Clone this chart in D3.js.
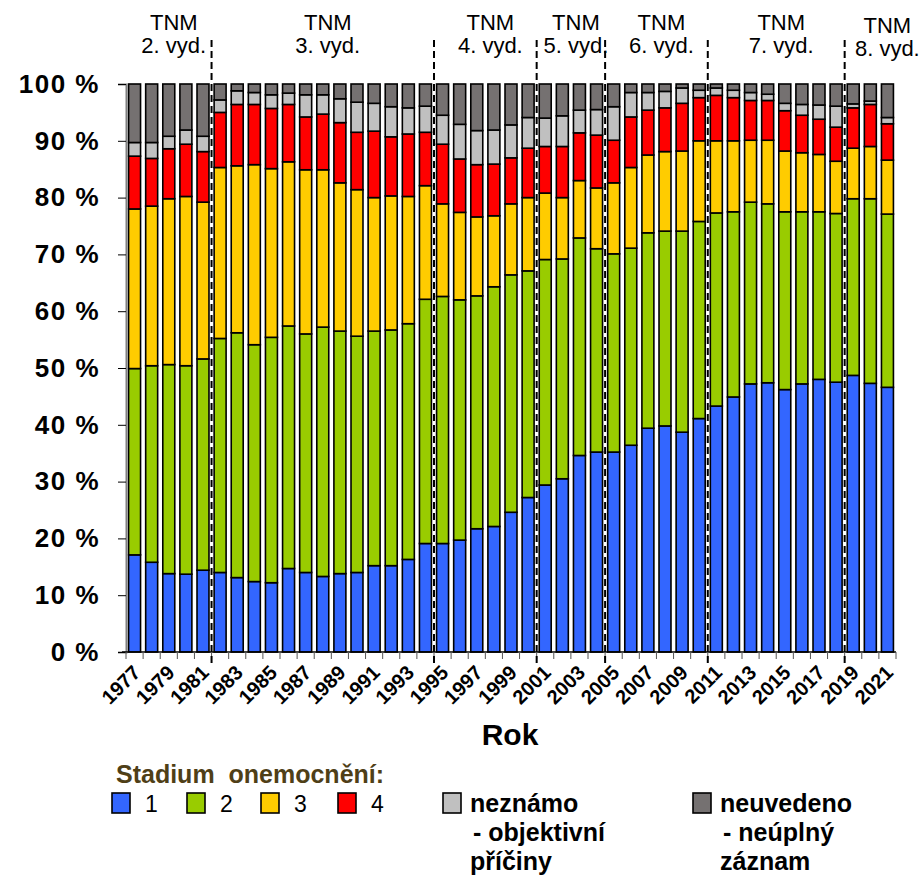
<!DOCTYPE html>
<html>
<head>
<meta charset="utf-8">
<script src="https://cdn.jsdelivr.net/npm/d3@7"></script>
<style>
  body { margin: 0; background: #fff; }
  svg { display: block; font-family: "Liberation Sans", Arial, sans-serif; }
</style>
</head>
<body>
<svg id="chart" width="922" height="877"></svg>
<script>
// years shown on the x axis
const years = [1977, 1978, 1979, 1980, 1981, 1982, 1983, 1984, 1985, 1986,
    1987, 1988, 1989, 1990, 1991, 1992, 1993, 1994, 1995, 1996,
    1997, 1998, 1999, 2000, 2001, 2002, 2003, 2004, 2005, 2006,
    2007, 2008, 2009, 2010, 2011, 2012, 2013, 2014, 2015, 2016,
    2017, 2018, 2019, 2020, 2021];

// share of each stage (%)
const stage1 = [17.1, 15.8, 13.8, 13.7, 14.4, 14.0, 13.1, 12.4, 12.2, 14.7,
    14.0, 13.3, 13.8, 14.0, 15.2, 15.2, 16.3, 19.1, 19.1, 19.7,
    21.7, 22.1, 24.6, 27.2, 29.4, 30.5, 34.6, 35.2, 35.2, 36.4,
    39.4, 39.8, 38.7, 41.1, 43.3, 44.9, 47.2, 47.4, 46.2, 47.2,
    48.0, 47.5, 48.7, 47.3, 46.6];
const stage2 = [32.8, 34.6, 36.8, 36.7, 37.2, 41.2, 43.1, 41.7, 43.2, 42.7,
    42.0, 43.9, 42.7, 41.6, 41.3, 41.5, 41.5, 43.0, 43.5, 42.3,
    41.0, 42.2, 41.8, 39.9, 39.7, 38.7, 38.3, 35.8, 34.9, 34.7,
    34.4, 34.3, 35.4, 34.7, 34.0, 32.6, 32.0, 31.5, 31.3, 30.3,
    29.5, 29.7, 31.1, 32.5, 30.5];
const stage3 = [28.1, 28.1, 29.2, 29.8, 27.6, 30.1, 29.4, 31.7, 29.7, 28.9,
    28.9, 27.7, 26.1, 25.8, 23.5, 23.6, 22.4, 20.0, 16.3, 15.4,
    13.9, 12.5, 12.5, 12.9, 11.7, 10.8, 10.1, 10.7, 12.5, 14.2,
    13.7, 14.0, 14.1, 14.2, 12.7, 12.5, 10.9, 11.2, 10.7, 10.4,
    10.1, 9.2, 8.9, 9.2, 9.5];
const stage4 = [9.3, 8.4, 8.8, 9.2, 8.9, 9.7, 10.8, 10.6, 10.6, 10.1,
    9.3, 9.8, 10.6, 10.1, 11.7, 10.4, 11.0, 9.4, 10.5, 9.4,
    9.2, 9.1, 8.1, 8.7, 8.2, 9.0, 8.4, 9.3, 7.5, 8.9,
    7.9, 7.7, 8.4, 7.6, 8.0, 7.6, 7.0, 7.0, 7.1, 6.6,
    6.2, 6.0, 7.1, 7.4, 6.4];
const unknown = [2.4, 2.8, 2.2, 2.5, 2.7, 2.2, 2.4, 2.1, 2.4, 2.0,
    3.9, 3.4, 4.2, 5.3, 4.9, 5.3, 4.6, 4.6, 5.1, 6.1,
    6.0, 6.0, 5.8, 5.4, 5.0, 5.4, 4.0, 4.5, 5.9, 4.3,
    3.1, 2.9, 2.7, 1.3, 1.3, 1.3, 1.4, 1.1, 1.3, 1.9,
    2.5, 3.7, 0.7, 0.6, 1.1];
const notGiven = [10.3, 10.3, 9.2, 8.1, 9.2, 2.8, 1.2, 1.5, 1.9, 1.6,
    1.9, 1.9, 2.6, 3.2, 3.4, 4.0, 4.2, 3.9, 5.5, 7.1,
    8.2, 8.1, 7.2, 5.9, 6.0, 5.6, 4.6, 4.5, 4.0, 1.5,
    1.5, 1.3, 0.7, 1.1, 0.7, 1.1, 1.5, 1.8, 3.4, 3.6,
    3.7, 3.9, 3.5, 3.0, 5.9];

// TNM editions: first year of each and its label
const editionStart = [1977, 1982, 1995, 2001, 2005, 2011, 2019];
const editionLabel = ['2. vyd.', '3. vyd.', '4. vyd.', '5. vyd.', '6. vyd.', '7. vyd.', '8. vyd.'];

const yTicks = [0, 10, 20, 30, 40, 50, 60, 70, 80, 90, 100];

const keys = ['s1', 's2', 's3', 's4', 'nezn', 'neuv'];
const colors = {
    s1: '#3366ff', s2: '#99cc00', s3: '#ffcc00', s4: '#ff0000',
    nezn: '#c0c0c0', neuv: '#757171'
};

const table = years.map((yr, i) => ({
    year: yr,
    s1: stage1[i], s2: stage2[i], s3: stage3[i], s4: stage4[i],
    nezn: unknown[i], neuv: notGiven[i]
}));

const svg = d3.select('#chart');
const plotLeft = 126, plotRight = 896, plotTop = 84, plotBottom = 652;

const x = d3.scaleBand()
    .domain(years)
    .range([plotLeft, plotRight])
    .paddingInner(0.3)
    .paddingOuter(0.15);
const y = d3.scaleLinear().domain([0, 100]).range([plotBottom, plotTop]);

const series = d3.stack().keys(keys)(table);

// bars
svg.append('g')
    .selectAll('g')
    .data(series)
    .join('g')
    .attr('fill', d => colors[d.key])
    .selectAll('rect')
    .data(d => d)
    .join('rect')
    .attr('x', d => x(d.data.year))
    .attr('width', x.bandwidth())
    .attr('y', d => y(d[1]))
    .attr('height', d => y(d[0]) - y(d[1]))
    .attr('stroke', '#000')
    .attr('stroke-width', 1.6);

// y axis
const yAxis = svg.append('g')
    .attr('transform', `translate(${plotLeft},0)`)
    .call(d3.axisLeft(y).tickValues(yTicks).tickSize(8).tickFormat(d => `${d} %`));
yAxis.select('.domain').attr('stroke', '#808080').attr('stroke-width', 2);
yAxis.selectAll('.tick line').attr('stroke', '#000');
yAxis.selectAll('.tick text')
    .attr('x', -26)
    .attr('font-size', 26)
    .attr('font-weight', 'bold')
    .attr('letter-spacing', 1.5)
    .attr('font-family', '"Liberation Sans", Arial, sans-serif')
    .attr('fill', '#000');

// x axis: ticks between categories, labels on odd years
const step = x.step();
const xAxis = svg.append('g')
    .attr('transform', `translate(0,${plotBottom})`);
xAxis.append('line')
    .attr('x1', plotLeft - 4).attr('x2', plotRight)
    .attr('stroke', '#000').attr('stroke-width', 1.5);
xAxis.selectAll('.xt')
    .data(years.concat([null]))
    .join('line')
    .attr('class', 'xt')
    .attr('x1', (d, i) => plotLeft + i * step)
    .attr('x2', (d, i) => plotLeft + i * step)
    .attr('y2', 7)
    .attr('stroke', '#555')
    .attr('stroke-width', 1);
xAxis.selectAll('text')
    .data(years.filter(d => d % 2 === 1))
    .join('text')
    .attr('transform', d => `translate(${x(d) + x.bandwidth() / 2 + 7},22) rotate(-45)`)
    .attr('text-anchor', 'end')
    .attr('font-size', 20)
    .attr('font-weight', 'bold')
    .text(d => d);

svg.append('text')
    .attr('x', 510).attr('y', 745)
    .attr('text-anchor', 'middle')
    .attr('font-size', 30)
    .attr('font-weight', 'bold')
    .text('Rok');

// TNM edition separators and labels
const edgeX = yr => plotLeft + years.indexOf(yr) * step;
svg.append('g')
    .selectAll('line')
    .data(editionStart.slice(1))
    .join('line')
    .attr('x1', d => edgeX(d)).attr('x2', d => edgeX(d))
    .attr('y1', 40).attr('y2', 666)
    .attr('stroke', '#000')
    .attr('stroke-width', 2)
    .attr('stroke-dasharray', '7,4');

const labels = svg.append('g')
    .selectAll('text')
    .data(editionStart)
    .join('text')
    .attr('text-anchor', 'middle')
    .attr('font-size', 22)
    .attr('transform', (d, i) => {
        const x0 = edgeX(d);
        const x1 = i < editionStart.length - 1 ? edgeX(editionStart[i + 1]) : plotRight;
        const last = i === editionStart.length - 1;
        return `translate(${(x0 + x1) / 2 + (last ? 17 : 5)},${last ? 3 : 0})`;
    });
labels.append('tspan').attr('x', 0).attr('y', 30).text('TNM');
labels.append('tspan').attr('x', 0).attr('y', 53).text((d, i) => editionLabel[i]);

// legend
const legend = svg.append('g');
legend.append('text')
    .attr('x', 116).attr('y', 783)
    .attr('font-size', 25)
    .attr('font-weight', 'bold')
    .attr('fill', '#4f3f17')
    .attr('xml:space', 'preserve')
    .text('Stadium  onemocnění:');

const legendItems = [
    {key: 's1', x: 112, lines: ['1'], bold: false},
    {key: 's2', x: 187, lines: ['2'], bold: false},
    {key: 's3', x: 261, lines: ['3'], bold: false},
    {key: 's4', x: 338, lines: ['4'], bold: false},
    {key: 'nezn', x: 443, lines: ['neznámo', '- objektivní', 'příčiny'], bold: true},
    {key: 'neuv', x: 693, lines: ['neuvedeno', '- neúplný', 'záznam'], bold: true}
];
const li = legend.selectAll('g.li')
    .data(legendItems)
    .join('g')
    .attr('class', 'li')
    .attr('transform', d => `translate(${d.x},793)`);
li.append('rect')
    .attr('width', 18).attr('height', 20)
    .attr('fill', d => colors[d.key])
    .attr('stroke', '#000')
    .attr('stroke-width', 1.6);
li.each(function (d) {
    const t = d3.select(this).append('text')
        .attr('font-size', d.bold ? 25 : 23)
        .attr('font-weight', d.bold ? 'bold' : 'normal');
    d.lines.forEach((line, k) => {
        t.append('tspan')
            .attr('x', d.bold ? (k === 1 ? 30 : 27) : 33)
            .attr('y', 19 + k * 29)
            .text(line);
    });
});
</script>
</body>
</html>
